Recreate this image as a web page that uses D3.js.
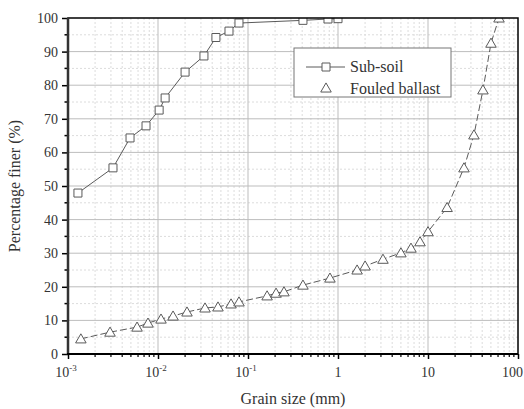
<!DOCTYPE html>
<html><head><meta charset="utf-8">
<script src="https://cdn.jsdelivr.net/npm/d3@7"></script>
<style>body{margin:0;background:#fff}svg{display:block}</style>
</head><body>
<svg id="c" width="524" height="409"></svg>
<script>
const subsoilSize = [0.00129, 0.00316, 0.00489, 0.00736, 0.0103, 0.012, 0.02, 0.0324, 0.044, 0.0615, 0.0794, 0.408, 0.774, 1.0];
const subsoilPct  = [47.9, 55.4, 64.3, 67.9, 72.6, 76.2, 83.9, 88.7, 94.2, 96.1, 98.5, 99.3, 99.7, 99.8];
const ballastSize = [0.00139, 0.00293, 0.00585, 0.00774, 0.0108, 0.0147, 0.021, 0.0333, 0.0464, 0.0648, 0.0794, 0.163, 0.205, 0.251, 0.408, 0.814, 1.63, 2.0, 3.16, 5.0, 6.47, 8.15, 10, 16.3, 25.1, 32.4, 40.8, 50.1, 61.5];
const ballastPct  = [4.5, 6.5, 8.0, 9.2, 10.4, 11.3, 12.5, 13.7, 14.0, 14.9, 15.5, 17.3, 18.1, 18.5, 20.5, 22.6, 25.0, 26.2, 28.2, 30.1, 31.5, 33.4, 36.4, 43.6, 55.4, 65.2, 78.6, 92.5, 100];
const xTickVals = [0.001, 0.01, 0.1, 1, 10, 100];
const xTickBase = ["10", "10", "10", "1", "10", "100"];
const xTickExp  = ["-3", "-2", "-1", "", "", ""];
const yTickVals = [0, 10, 20, 30, 40, 50, 60, 70, 80, 90, 100];
const seriesNames = ["Sub-soil", "Fouled ballast"];
const xTitle = "Grain size (mm)";
const yTitle = "Percentage finer (%)";

const L = 68, R = 518, T = 18, B = 354;
const font = "'Liberation Serif', 'Times New Roman', serif";
const svg = d3.select("#c");
const x = d3.scaleLog().domain([1e-3, 1e2]).range([L, R]);
const y = d3.scaleLinear().domain([0, 100]).range([B, T]);

const xMinor = [];
for (let e = -3; e < 2; e++) for (let k = 2; k <= 9; k++) xMinor.push(k * Math.pow(10, e));
const yMinor = d3.range(5, 100, 10);

const grid = svg.append("g");
grid.selectAll(".xm").data(xMinor).join("line")
  .attr("x1", d => x(d)).attr("x2", d => x(d)).attr("y1", T).attr("y2", B)
  .attr("stroke", "#dcdcdc").attr("stroke-width", 1).attr("stroke-dasharray", "2,2");
grid.selectAll(".ym").data(yMinor).join("line")
  .attr("x1", L).attr("x2", R).attr("y1", d => y(d)).attr("y2", d => y(d))
  .attr("stroke", "#dcdcdc").attr("stroke-width", 1).attr("stroke-dasharray", "2,2");
grid.selectAll(".xM").data(xTickVals.slice(1, -1)).join("line")
  .attr("x1", d => x(d)).attr("x2", d => x(d)).attr("y1", T).attr("y2", B)
  .attr("stroke", "#bdbdbd").attr("stroke-width", 1);
grid.selectAll(".yM").data(yTickVals.slice(1, -1)).join("line")
  .attr("x1", L).attr("x2", R).attr("y1", d => y(d)).attr("y2", d => y(d))
  .attr("stroke", "#bdbdbd").attr("stroke-width", 1);

svg.append("clipPath").attr("id", "pc").append("rect")
  .attr("x", L).attr("y", T).attr("width", R - L).attr("height", B - T);
const dg = svg.append("g").attr("clip-path", "url(#pc)");
const col = "#5a5a5a";
const sub = subsoilSize.map((d, i) => [d, subsoilPct[i]]);
const bal = ballastSize.map((d, i) => [d, ballastPct[i]]);
const line = d3.line().x(d => x(d[0])).y(d => y(d[1]));
dg.append("path").attr("d", line(sub)).attr("fill", "none").attr("stroke", col).attr("stroke-width", 1);
dg.append("path").attr("d", line(bal)).attr("fill", "none").attr("stroke", col).attr("stroke-width", 1)
  .attr("stroke-dasharray", "7,3");
const sq = d3.symbol().type(d3.symbolSquare).size(64);
const tri = d3.symbol().type(d3.symbolTriangle).size(48);
dg.selectAll(".s").data(sub).join("path").attr("d", sq)
  .attr("transform", d => `translate(${x(d[0])},${y(d[1])})`)
  .attr("fill", "#fff").attr("stroke", col).attr("stroke-width", 1);
dg.selectAll(".t").data(bal).join("path").attr("d", tri)
  .attr("transform", d => `translate(${x(d[0])},${y(d[1]) + 1})`)
  .attr("fill", "#fff").attr("stroke", col).attr("stroke-width", 1);

const ya = svg.append("g").attr("transform", `translate(${L},0)`)
  .call(d3.axisLeft(y).tickValues(yTickVals).tickSize(6).tickSizeOuter(0).tickPadding(4).tickFormat(d3.format("d")));
ya.select(".domain").remove();
ya.selectAll(".tick line").attr("stroke", "#000").attr("stroke-width", 1.5);
ya.selectAll("text").attr("font-family", font).attr("font-size", 14).attr("fill", "#333");
svg.append("g").selectAll("line").data(yMinor).join("line")
  .attr("x1", L - 3.5).attr("x2", L).attr("y1", d => y(d)).attr("y2", d => y(d))
  .attr("stroke", "#000").attr("stroke-width", 1.5);

const xa = svg.append("g").attr("transform", `translate(0,${B})`)
  .call(d3.axisBottom(x).tickValues(xTickVals).tickSize(5).tickSizeOuter(0).tickFormat(() => ""));
xa.select(".domain").remove();
xa.selectAll(".tick line").attr("stroke", "#000").attr("stroke-width", 1.5);
svg.append("g").selectAll("line").data(xMinor).join("line")
  .attr("x1", d => x(d)).attr("x2", d => x(d)).attr("y1", B).attr("y2", B + 3)
  .attr("stroke", "#000").attr("stroke-width", 1.2);
const nT = xTickVals.length;
const xl = svg.append("g").selectAll("text").data(xTickVals).join("text")
  .attr("x", (d, i) => i === nT - 1 ? 523 : x(d) + (xTickExp[i] ? -2 : 0)).attr("y", B + 23)
  .attr("text-anchor", (d, i) => i === nT - 1 ? "end" : "middle")
  .attr("font-family", font).attr("font-size", 14).attr("fill", "#333");
xl.append("tspan").text((d, i) => xTickBase[i]);
xl.filter((d, i) => xTickExp[i] !== "").append("tspan").attr("dy", -6).attr("font-size", 9).text((d, i) => xTickExp[xTickVals.indexOf(d)]);

svg.append("rect").attr("x", L).attr("y", T).attr("width", R - L).attr("height", B - T)
  .attr("fill", "none").attr("stroke", "#000").attr("stroke-width", 1.5);
svg.append("line").attr("x1", L).attr("x2", L).attr("y1", T).attr("y2", B + 1).attr("stroke", "#333").attr("stroke-width", 2.5);
svg.append("line").attr("x1", L - 1).attr("x2", R).attr("y1", B).attr("y2", B).attr("stroke", "#000").attr("stroke-width", 2);

svg.append("text").attr("x", (L + R) / 2).attr("y", 404).attr("text-anchor", "middle")
  .attr("font-family", font).attr("font-size", 16).attr("fill", "#333").text(xTitle);
svg.append("text").attr("transform", `translate(20,${(T + B) / 2}) rotate(-90)`).attr("text-anchor", "middle")
  .attr("font-family", font).attr("font-size", 16).attr("fill", "#333").text(yTitle);

const lg = svg.append("g");
lg.append("rect").attr("x", 294).attr("y", 48).attr("width", 157).attr("height", 49)
  .attr("fill", "#fff").attr("stroke", "#777").attr("stroke-width", 1);
lg.append("line").attr("x1", 306).attr("x2", 345).attr("y1", 67).attr("y2", 67).attr("stroke", col);
lg.append("path").attr("d", sq).attr("transform", "translate(326,67)").attr("fill", "#fff").attr("stroke", col);
lg.append("path").attr("d", tri).attr("transform", "translate(326,89)").attr("fill", "#fff").attr("stroke", col);
lg.selectAll("text.lt").data(seriesNames).join("text")
  .attr("x", 350).attr("y", (d, i) => 72 + i * 22)
  .attr("font-family", font).attr("font-size", 16).attr("fill", "#333").text(d => d);
</script>
</body></html>
